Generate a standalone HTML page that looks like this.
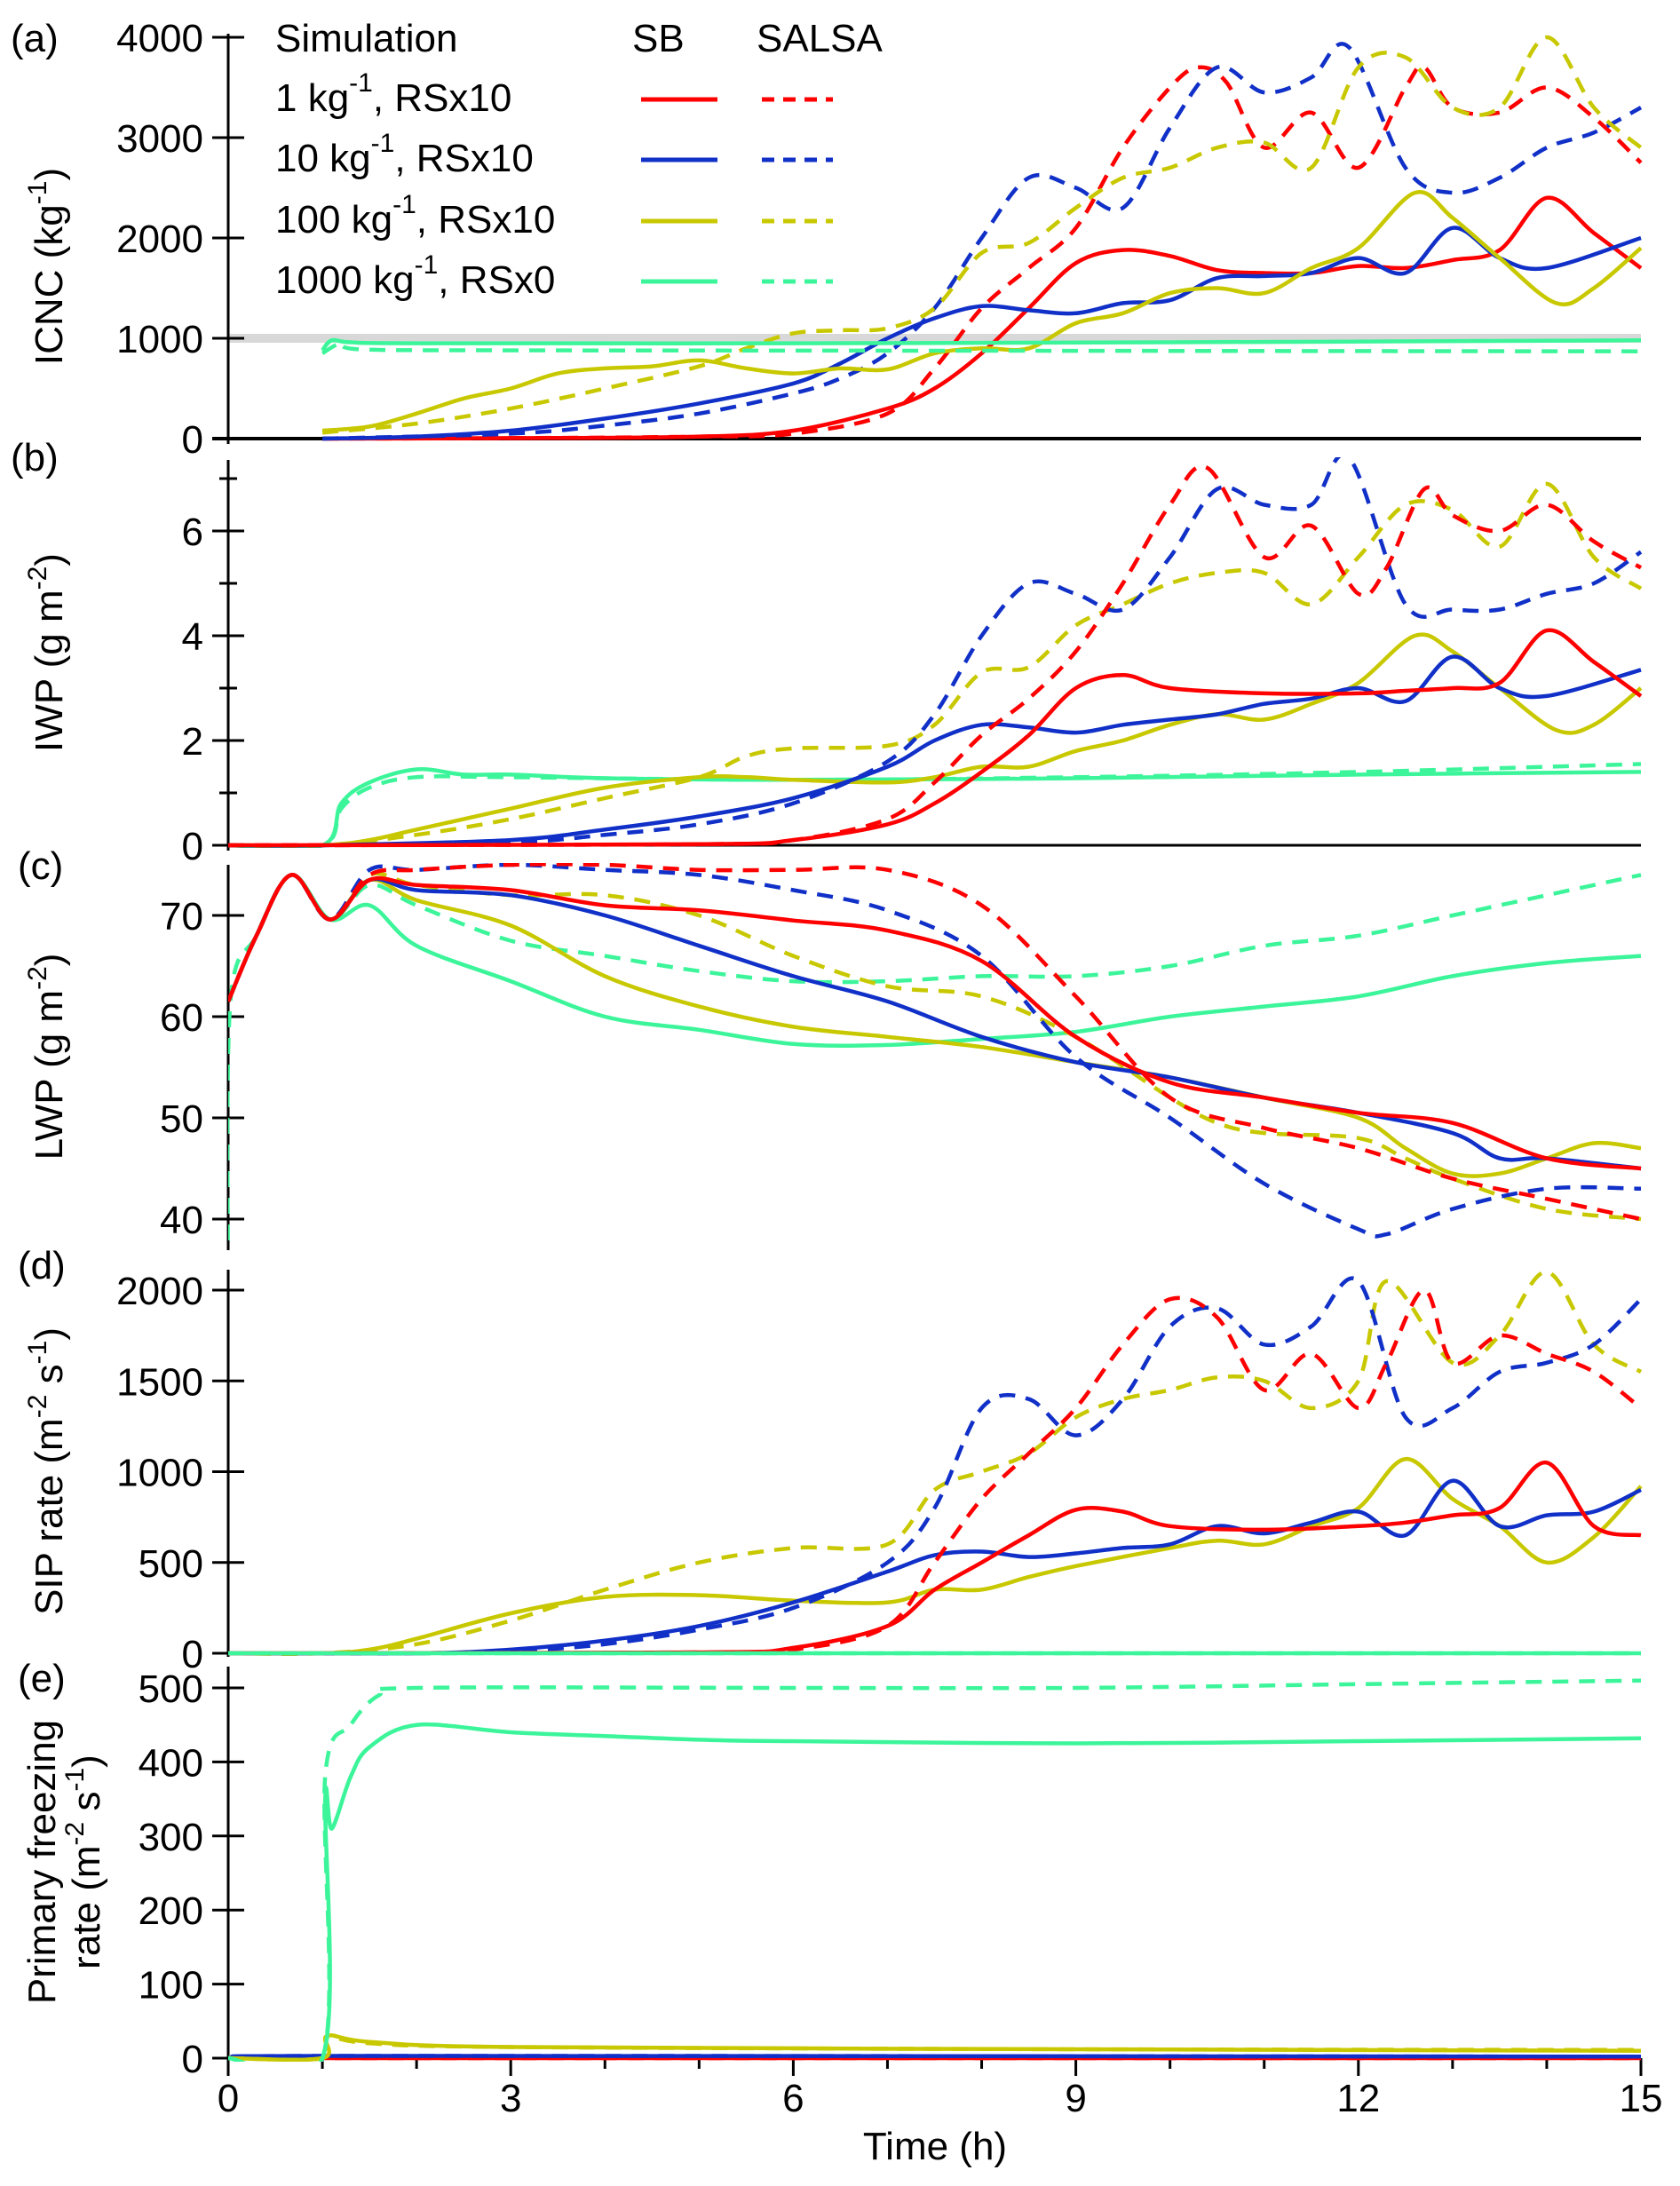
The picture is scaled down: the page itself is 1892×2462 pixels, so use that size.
<!DOCTYPE html>
<html><head><meta charset="utf-8"><style>
html,body{margin:0;padding:0;background:#fff}
svg{display:block}
text{font-family:"Liberation Sans",Arial,sans-serif;fill:#000}
</style></head><body>
<svg id="chart" width="1892" height="2462" viewBox="0 0 1892 2462" xmlns="http://www.w3.org/2000/svg">
<defs>
<clipPath id="clipA"><rect x="257" y="20" width="1600" height="480"/></clipPath>
<clipPath id="clipB"><rect x="257" y="515" width="1600" height="440"/></clipPath>
<clipPath id="clipC"><rect x="257" y="972" width="1600" height="436"/></clipPath>
<clipPath id="clipD"><rect x="257" y="1420" width="1600" height="446"/></clipPath>
<clipPath id="clipE"><rect x="257" y="1880" width="1600" height="442"/></clipPath>
</defs>
<g id="static"></g>
<g id="marks"></g>
</svg>
<script>
// ---------- data (time in hours, value) ----------
const xTicks = [0,3,6,9,12,15];
// (a) ICNC
const aRedSB   = [[1,0],[3,5],[5,20],[6,80],[7,300],[7.5,500],[8,850],[8.5,1300],[9,1750],[9.5,1880],[10,1820],[10.5,1680],[11,1650],[11.5,1650],[12,1720],[12.5,1700],[13,1780],[13.5,1880],[14,2400],[14.5,2050],[15,1700]];
const aRedSA   = [[1,0],[3,5],[5,20],[6,50],[7,250],[7.5,700],[8,1300],[8.5,1700],[9,2100],[9.5,2900],[10,3500],[10.3,3700],[10.6,3550],[11,2900],[11.5,3250],[12,2700],[12.5,3500],[12.7,3700],[13,3300],[13.5,3250],[14,3500],[14.5,3200],[15,2750]];
const aBluSB   = [[1,0],[2,20],[3,80],[4,200],[5,350],[6,550],[6.5,750],[7,1000],[7.5,1200],[8,1320],[8.5,1280],[9,1250],[9.5,1350],[10,1380],[10.5,1600],[11,1620],[11.5,1650],[12,1800],[12.5,1650],[13,2100],[13.5,1800],[14,1700],[15,2000]];
const aBluSA   = [[1,0],[3,50],[4,130],[5,250],[6,450],[6.5,600],[7,850],[7.5,1300],[8,2000],[8.5,2600],[9,2500],[9.5,2300],[10,3100],[10.5,3700],[11,3450],[11.5,3600],[11.9,3900],[12.5,2700],[13,2450],[13.5,2600],[14,2900],[14.5,3050],[15,3300]];
const aYelSB   = [[1,80],[1.5,120],[2,250],[2.5,400],[3,500],[3.5,650],[4,700],[4.5,720],[5,780],[5.5,700],[6,650],[6.5,700],[7,690],[7.5,850],[8,900],[8.5,900],[9,1150],[9.5,1250],[10,1450],[10.5,1500],[11,1450],[11.5,1700],[12,1900],[12.6,2450],[13,2200],[13.5,1800],[14.1,1350],[14.5,1500],[15,1900]];
const aYelSA   = [[1,60],[2,150],[3,300],[4,500],[5,720],[5.5,900],[6,1050],[6.5,1080],[7,1100],[7.5,1300],[8,1850],[8.5,1950],[9,2300],[9.5,2600],[10,2700],[10.5,2900],[11,2950],[11.5,2700],[12,3700],[12.5,3800],[13,3300],[13.5,3300],[14,4000],[14.5,3300],[15,2900]];
const aGrnSB   = [[1,880],[1.1,980],[1.3,960],[2,950],[6,950],[10,960],[15,980]];
const aGrnSA   = [[1,850],[1.2,950],[1.4,890],[3,880],[9,875],[15,870]];
// (b) IWP
const bRedSB   = [[0,0],[5,0.02],[6,0.1],[7,0.4],[7.5,0.8],[8,1.4],[8.5,2.1],[9,3.0],[9.5,3.25],[10,3.0],[11,2.9],[12,2.9],[12.5,2.95],[13,3.0],[13.5,3.1],[14,4.1],[14.5,3.5],[15,2.85]];
const bRedSA   = [[0,0],[5,0.02],[6,0.1],[7,0.5],[7.5,1.2],[8,2.1],[8.5,2.8],[9,3.7],[9.5,5.0],[10,6.5],[10.4,7.2],[11,5.5],[11.5,6.1],[12,4.8],[12.3,5.3],[12.7,6.8],[13,6.3],[13.5,6.0],[14,6.5],[14.5,5.8],[15,5.3]];
const bBluSB   = [[0,0],[1,0],[3,0.1],[4,0.3],[5,0.55],[6,0.9],[7,1.5],[7.5,2.0],[8,2.3],[8.5,2.25],[9,2.15],[9.5,2.3],[10,2.4],[10.5,2.5],[11,2.7],[11.5,2.8],[12,3.0],[12.5,2.75],[13,3.6],[13.5,3.0],[14,2.85],[15,3.35]];
const bBluSA   = [[0,0],[1,0],[3,0.05],[4,0.2],[5,0.4],[6,0.8],[7,1.6],[7.5,2.5],[8,4.0],[8.5,5.0],[9,4.8],[9.5,4.5],[10,5.5],[10.5,6.8],[11,6.5],[11.5,6.5],[11.9,7.4],[12.5,4.6],[13,4.5],[13.5,4.5],[14,4.8],[14.5,5.0],[15,5.6]];
const bYelSB   = [[0,0],[1,0],[1.5,0.1],[2,0.3],[3,0.7],[4,1.1],[5,1.3],[5.5,1.3],[6,1.25],[7,1.2],[7.5,1.3],[8,1.5],[8.5,1.5],[9,1.8],[9.5,2.0],[10,2.3],[10.5,2.5],[11,2.4],[11.5,2.7],[12,3.1],[12.6,4.0],[13,3.7],[13.5,3.0],[14.1,2.2],[14.5,2.3],[15,3.0]];
const bYelSA   = [[0,0],[1,0],[2,0.2],[3,0.5],[4,0.9],[5,1.3],[5.5,1.7],[6,1.85],[7,1.9],[7.5,2.3],[8,3.3],[8.5,3.4],[9,4.2],[9.5,4.6],[10,5.0],[10.5,5.2],[11,5.2],[11.5,4.6],[12,5.5],[12.5,6.5],[13,6.4],[13.5,5.7],[14,6.9],[14.5,5.5],[15,4.9]];
const bGrnSB   = [[0,0],[1,0],[1.2,0.8],[1.5,1.2],[2,1.45],[2.5,1.35],[3,1.35],[4,1.28],[6,1.25],[9,1.28],[12,1.35],[15,1.4]];
const bGrnSA   = [[0,0],[1,0],[1.2,0.7],[1.5,1.1],[2,1.3],[3,1.3],[6,1.25],[9,1.3],[12,1.4],[15,1.55]];
// (c) LWP
const cStart   = [[0,61.5],[0.3,68],[0.67,74],[1.08,69.6]];
const cRedSB   = [[1.5,73.5],[2,73],[3,72.5],[4,71],[5,70.5],[6,69.5],[7,68.5],[8,65.5],[9,58],[10,53.5],[11,52],[12,50.5],[13,49.5],[14,46],[15,45]];
const cRedSA   = [[1.5,74],[2,74.5],[3,75],[4,75],[5,74.5],[6,74.5],[7,74.5],[8,71],[9,62],[10,52],[11,49],[12,47],[13,44],[14,42],[15,40]];
const cBluSB   = [[1.5,73.5],[2,72.5],[3,72],[4,70],[5,67],[6,64],[7,61.5],[8,58],[9,55.5],[10,54],[11,52],[12,50.5],[13,48.5],[13.5,46],[14,46],[15,45]];
const cBluSA   = [[1.5,74.5],[2,74.5],[3,75],[4,74.5],[5,74],[6,72.5],[7,70.5],[8,66],[9,56],[10,50],[11,43.5],[12,39],[12.3,38.5],[13,41],[14,43],[15,43]];
const cYelSB   = [[1.5,73.5],[2,71.5],[3,69],[4,64],[5,61],[6,59],[7,58],[8,57],[9,55.5],[10,54],[11,52],[12,50],[12.5,47],[13,44.5],[13.5,44.5],[14,46],[14.5,47.5],[15,47]];
const cYelSA   = [[1.5,74],[2,73],[3,72],[4,72],[5,70],[6,66],[7,63],[8,62],[9,58],[10,52],[10.5,49.5],[11,48.5],[12,48],[12.5,46],[13,44],[14,41],[15,40]];
const cGrnSB   = [[1.5,71],[2,67],[3,63.5],[4,60],[5,58.7],[6,57.3],[7,57.2],[8,57.8],[9,58.5],[10,60],[11,61],[12,62],[13,64],[14,65.3],[15,66]];
const cGrnSA   = [[1.5,73],[2,71],[3,67.5],[4,66],[5,64.5],[6,63.5],[7,63.5],[8,64],[9,64],[10,65],[11,67],[12,68],[13,70],[14,72],[15,74]];
// (d) SIP rate
const dRedSB   = [[0,0],[5,5],[6,30],[7,150],[7.5,350],[8,500],[8.5,650],[9,790],[9.5,780],[10,700],[11,680],[12,700],[12.5,720],[13,760],[13.5,800],[14,1050],[14.5,700],[15,650]];
const dRedSA   = [[0,0],[5,5],[6,20],[7,150],[7.5,500],[8,850],[8.5,1100],[9,1350],[9.5,1700],[10,1950],[10.5,1850],[11,1450],[11.5,1650],[12,1350],[12.3,1600],[12.7,2000],[13,1600],[13.5,1750],[14,1650],[14.5,1550],[15,1350]];
const dBluSB   = [[0,0],[2,0],[3,20],[4,70],[5,150],[6,280],[7,450],[7.5,540],[8,560],[8.5,530],[9,550],[9.5,580],[10,600],[10.5,700],[11,660],[11.5,720],[12,780],[12.5,650],[13,950],[13.5,700],[14,760],[14.5,780],[15,900]];
const dBluSA   = [[0,0],[2,0],[3,10],[4,50],[5,130],[6,250],[7,500],[7.5,800],[8,1350],[8.5,1400],[9,1200],[9.5,1400],[10,1800],[10.5,1900],[11,1700],[11.5,1800],[12,2050],[12.5,1300],[13,1350],[13.5,1550],[14,1600],[14.5,1700],[15,1950]];
const dYelSB   = [[0,0],[1,0],[1.5,20],[2,80],[3,220],[4,310],[5,320],[6,290],[7,280],[7.5,350],[8,350],[8.5,420],[9,480],[10,580],[10.5,620],[11,600],[11.5,700],[12,800],[12.5,1070],[13,850],[13.5,700],[14,500],[14.5,640],[15,920]];
const dYelSA   = [[0,0],[1,0],[2,50],[3,180],[4,350],[5,500],[6,580],[7,600],[7.5,900],[8,1000],[8.5,1100],[9,1300],[9.5,1400],[10,1450],[10.5,1520],[11,1500],[11.5,1350],[12,1500],[12.3,2050],[13,1600],[13.5,1750],[14,2100],[14.5,1700],[15,1550]];
const dGrnSB   = [[0,0],[15,0]];
const dGrnSA   = [[0,0],[15,0]];
// (e) Primary freezing rate
const eRedSB   = [[0,0],[15,0]];
const eRedSA   = [[0,0],[15,0]];
const eBluSB   = [[0,0],[1,0],[1.05,3],[15,2]];
const eBluSA   = [[0,0],[1,0],[1.05,3],[15,2]];
const eYelSB   = [[0,0],[1,0],[1.05,30],[1.5,22],[3,15],[9,12],[15,10]];
const eYelSA   = [[0,0],[1,0],[1.05,28],[1.5,20],[3,15],[9,12],[15,11]];
const eGrnSB   = [[0,0],[1,0],[1.03,350],[1.1,310],[1.3,380],[1.5,420],[2,450],[3,440],[4,435],[5,430],[6,428],[9,425],[12,428],[15,432]];
const eGrnSA   = [[0,0],[1,0],[1.03,380],[1.3,450],[1.6,490],[2,500],[6,500],[9,500],[12,505],[15,510]];

// ---------- drawing ----------
const NS="http://www.w3.org/2000/svg";
const C={red:"#ff0000",blu:"#1030c8",yel:"#c8c800",grn:"#3cf59a"};
const X0=257,X1=1848;
function xs(t){return X0+(X1-X0)*t/15;}
const panels={
 a:{y:v=>494-v*0.113},
 b:{y:v=>952-v*59},
 c:{y:v=>1031-(v-70)*11.4},
 d:{y:v=>1862-v*0.2045},
 e:{y:v=>2318-v*0.834}
};
const st=document.getElementById('static');
const mk=document.getElementById('marks');
function el(tag,attrs,parent,txt){const e=document.createElementNS(NS,tag);for(const k in attrs)e.setAttribute(k,attrs[k]);if(txt!==undefined)e.textContent=txt;parent.appendChild(e);return e;}
function pathD(pts,ys){
 const P=pts.map(p=>[xs(p[0]),ys(p[1])]);
 let d="M"+P[0][0].toFixed(1)+","+P[0][1].toFixed(1);
 for(let i=0;i<P.length-1;i++){
  const p0=P[Math.max(0,i-1)],p1=P[i],p2=P[i+1],p3=P[Math.min(P.length-1,i+2)];
  let c1=[p1[0]+(p2[0]-p0[0])/6,p1[1]+(p2[1]-p0[1])/6];
  let c2=[p2[0]-(p3[0]-p1[0])/6,p2[1]-(p3[1]-p1[1])/6];
  d+=" C"+c1[0].toFixed(1)+","+c1[1].toFixed(1)+" "+c2[0].toFixed(1)+","+c2[1].toFixed(1)+" "+p2[0].toFixed(1)+","+p2[1].toFixed(1);
 }
 return d;
}
function series(panel,data,color,dashed,name,clip){
 const p=el('path',{d:pathD(data,panels[panel].y),fill:'none',stroke:color,'stroke-width':4.5,'stroke-linejoin':'round','clip-path':'url(#'+clip+')'},mk);
 if(dashed)p.setAttribute('stroke-dasharray','18 12');
 
 
}
// axes
function yAxis(panel,top,bottom,ticks,labels,minor,label){
 const g=el('g',{},st);
 
 
 el('line',{x1:X0,y1:top,x2:X0,y2:bottom,stroke:'#000','stroke-width':3},g);
 ticks.forEach((v,i)=>{const y=panels[panel].y(v);
  el('line',{x1:X0-18,y1:y,x2:X0+18,y2:y,stroke:'#000','stroke-width':3},g);
  const t=el('text',{x:X0-28,y:y+16,'text-anchor':'end','font-size':44},g,labels[i]);
  
  
 });
 (minor||[]).forEach(v=>{const y=panels[panel].y(v);el('line',{x1:X0-10,y1:y,x2:X0+10,y2:y,stroke:'#000','stroke-width':3},g);});
}
const aTicks=[0,1000,2000,3000,4000];
const bTicks=[0,2,4,6];
const cTicks=[40,50,60,70];
const dTicks=[0,500,1000,1500,2000];
const eTicks=[0,100,200,300,400,500];
// grey reference line panel a
el('line',{x1:X0,y1:panels.a.y(1000),x2:X1,y2:panels.a.y(1000),stroke:'#d8d8d8','stroke-width':10},st);
yAxis('a',38,500,aTicks,aTicks.map(String));
yAxis('b',518,958,bTicks,bTicks.map(String),[1,3,5,7]);
yAxis('c',974,1408,cTicks,cTicks.map(String));
yAxis('d',1430,1866,dTicks,dTicks.map(String));
yAxis('e',1877,2333,eTicks,eTicks.map(String));
// horizontal zero lines
el('line',{x1:X0-18,y1:panels.a.y(0),x2:X1,y2:panels.a.y(0),stroke:'#000','stroke-width':4},st);
el('line',{x1:X0-18,y1:panels.b.y(0),x2:X1,y2:panels.b.y(0),stroke:'#000','stroke-width':3},st);
// x axis ticks (bottom)
for(let h=0;h<=15;h++){const x=xs(h);const major=h%3===0;
 el('line',{x1:x,y1:2318,x2:x,y2:major?2338:2330,stroke:'#000','stroke-width':3},st);}
xTicks.forEach(h=>{const t=el('text',{x:xs(h),y:2378,'text-anchor':'middle','font-size':44},st,String(h));
 
 });
// series
const sets=[
 ['a','clipA',[[aRedSB,'red',0],[aRedSA,'red',1],[aBluSB,'blu',0],[aBluSA,'blu',1],[aYelSB,'yel',0],[aYelSA,'yel',1],[aGrnSB,'grn',0],[aGrnSA,'grn',1]]],
 ['b','clipB',[[bGrnSB,'grn',0],[bGrnSA,'grn',1],[bYelSB,'yel',0],[bYelSA,'yel',1],[bBluSB,'blu',0],[bBluSA,'blu',1],[bRedSB,'red',0],[bRedSA,'red',1]]],
 ['c','clipC',[[cStart.concat(cGrnSB),'grn',0],[[[0,30],[0.02,61]].concat(cStart.slice(1),cGrnSA),'grn',1],[cStart.concat(cYelSB),'yel',0],[cStart.concat(cYelSA),'yel',1],[cStart.concat(cBluSB),'blu',0],[cStart.concat(cBluSA),'blu',1],[cStart.concat(cRedSB),'red',0],[cStart.concat(cRedSA),'red',1]]],
 ['d','clipD',[[dYelSB,'yel',0],[dYelSA,'yel',1],[dBluSB,'blu',0],[dBluSA,'blu',1],[dRedSB,'red',0],[dRedSA,'red',1],[dGrnSB,'grn',0],[dGrnSA,'grn',1]]],
 ['e','clipE',[[eRedSB,'red',0],[eRedSA,'red',1],[eBluSB,'blu',0],[eBluSA,'blu',1],[eYelSB,'yel',0],[eYelSA,'yel',1],[eGrnSB,'grn',0],[eGrnSA,'grn',1]]]
];
sets.forEach(([p,clip,list])=>list.forEach(([d,c,dash])=>series(p,d,C[c],dash,p+'-'+c+(dash?'-salsa':'-sb')+'-line',clip)));
</script>
<!-- text overlays -->
<svg width="1892" height="2462" style="position:absolute;left:0;top:0" viewBox="0 0 1892 2462" xmlns="http://www.w3.org/2000/svg">
<g font-family="Liberation Sans, Arial, sans-serif" font-size="44" fill="#000">
<text x="12" y="58">(a)</text>
<text x="12" y="530">(b)</text>
<text x="20" y="990">(c)</text>
<text x="20" y="1440">(d)</text>
<text x="20" y="1905">(e)</text>
<text transform="translate(70,300) rotate(-90)" text-anchor="middle">ICNC (kg<tspan dy="-18" font-size="30">-1</tspan><tspan dy="18">)</tspan></text>
<text transform="translate(70,735) rotate(-90)" text-anchor="middle">IWP (g m<tspan dy="-18" font-size="30">-2</tspan><tspan dy="18">)</tspan></text>
<text transform="translate(70,1190) rotate(-90)" text-anchor="middle">LWP (g m<tspan dy="-18" font-size="30">-2</tspan><tspan dy="18">)</tspan></text>
<text transform="translate(70,1657) rotate(-90)" text-anchor="middle">SIP rate (m<tspan dy="-18" font-size="30">-2</tspan><tspan dy="18"> s</tspan><tspan dy="-18" font-size="30">-1</tspan><tspan dy="18">)</tspan></text>
<text transform="translate(62,2097) rotate(-90)" text-anchor="middle">Primary freezing</text>
<text transform="translate(112,2097) rotate(-90)" text-anchor="middle">rate (m<tspan dy="-18" font-size="30">-2</tspan><tspan dy="18"> s</tspan><tspan dy="-18" font-size="30">-1</tspan><tspan dy="18">)</tspan></text>
<text x="1053" y="2432" text-anchor="middle">Time (h)</text>
<g>
<text x="310" y="58">Simulation</text>
<text x="712" y="58">SB</text>
<text x="852" y="58">SALSA</text>
<text x="310" y="125">1 kg<tspan dy="-22" font-size="30">-1</tspan><tspan dy="22">, RSx10</tspan></text>
<text x="310" y="193">10 kg<tspan dy="-22" font-size="30">-1</tspan><tspan dy="22">, RSx10</tspan></text>
<text x="310" y="262">100 kg<tspan dy="-22" font-size="30">-1</tspan><tspan dy="22">, RSx10</tspan></text>
<text x="310" y="330">1000 kg<tspan dy="-22" font-size="30">-1</tspan><tspan dy="22">, RSx0</tspan></text>
<g stroke-width="5">
<line x1="722" y1="112" x2="808" y2="112" stroke="#ff0000"/><line x1="858" y1="112" x2="938" y2="112" stroke="#ff0000" stroke-dasharray="14 10"/>
<line x1="722" y1="180" x2="808" y2="180" stroke="#1030c8"/><line x1="858" y1="180" x2="938" y2="180" stroke="#1030c8" stroke-dasharray="14 10"/>
<line x1="722" y1="249" x2="808" y2="249" stroke="#c8c800"/><line x1="858" y1="249" x2="938" y2="249" stroke="#c8c800" stroke-dasharray="14 10"/>
<line x1="722" y1="317" x2="808" y2="317" stroke="#3cf59a"/><line x1="858" y1="317" x2="938" y2="317" stroke="#3cf59a" stroke-dasharray="14 10"/>
</g>
</g>
</g>
</svg>
</body></html>
